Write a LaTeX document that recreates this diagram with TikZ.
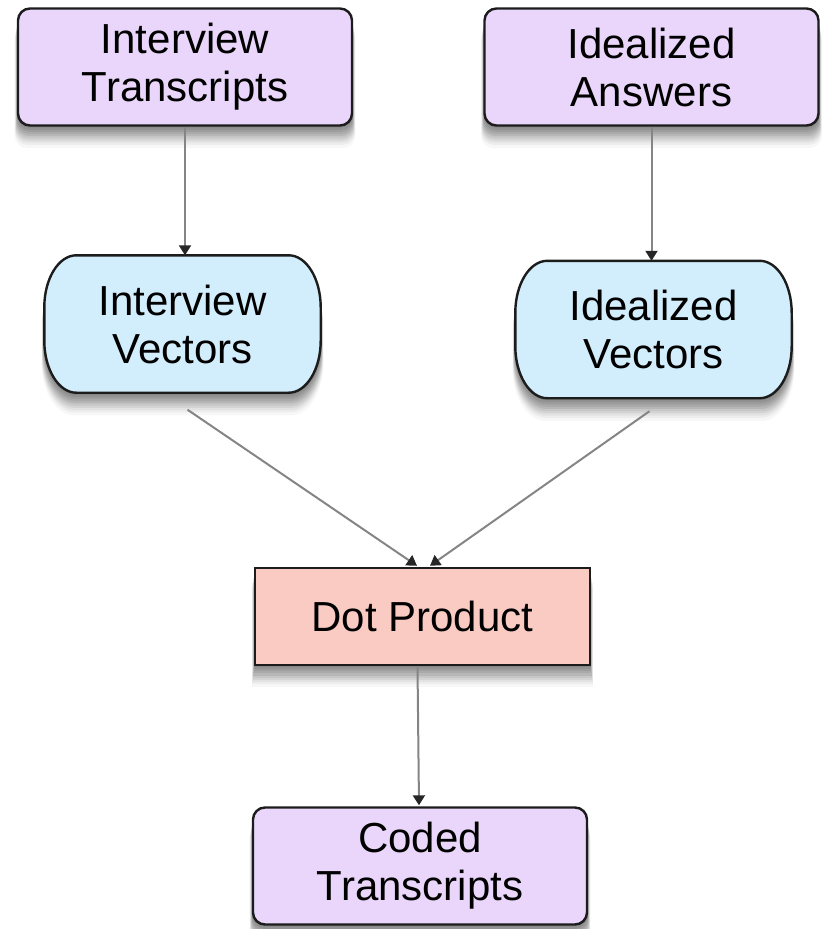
\documentclass[tikz,border=0pt]{standalone}
\usepackage{fontspec}
\setmainfont{Liberation Sans}
\usetikzlibrary{arrows.meta,calc,shadows,backgrounds}

\definecolor{lilac}{HTML}{EAD6FB}
\definecolor{skyfill}{HTML}{D2EEFC}
\definecolor{salmon}{HTML}{FACBC3}
\definecolor{edge}{HTML}{1C1C1C}
\definecolor{wire}{HTML}{858585}

\tikzset{
  % soft drop shadow built from stacked translucent copies
  softshadow/.style={
    general shadow={fill=black, opacity=0.075, shadow yshift=-2pt,  shadow scale=1.002},
    general shadow={fill=black, opacity=0.075, shadow yshift=-4pt,  shadow scale=1.004},
    general shadow={fill=black, opacity=0.075, shadow yshift=-6pt,  shadow scale=1.006},
    general shadow={fill=black, opacity=0.075, shadow yshift=-8pt,  shadow scale=1.008},
    general shadow={fill=black, opacity=0.07, shadow yshift=-10pt, shadow scale=1.010},
    general shadow={fill=black, opacity=0.065, shadow yshift=-12pt, shadow scale=1.012},
    general shadow={fill=black, opacity=0.06, shadow yshift=-14pt, shadow scale=1.014},
    general shadow={fill=black, opacity=0.05, shadow yshift=-16pt, shadow scale=1.016},
    general shadow={fill=black, opacity=0.04, shadow yshift=-18pt, shadow scale=1.018},
    general shadow={fill=black, opacity=0.03, shadow yshift=-21pt, shadow scale=1.020}
  },
  label text/.style={font=\fontsize{42}{48}\selectfont, align=center, text=black},
  frame/.style={draw=edge, line width=2.4pt},
  srcbox/.style={label text, frame, fill=lilac, rounded corners=12pt, softshadow,
    minimum width=334pt, minimum height=117pt, inner sep=0pt},
  prodbox/.style={label text, frame, fill=salmon, softshadow,
    minimum width=335pt, minimum height=97pt, inner sep=0pt},
  vecnode/.style={label text, minimum width=276pt, minimum height=137pt, inner sep=0pt},
  vecshape/.style={frame, fill=skyfill, softshadow},
  link/.style={draw=wire, line width=2pt,
    -{Triangle[width=12pt,length=10pt,color=black!85]}}
}

% rounded outline with elliptical corners around a vector node
\newcommand\vecoutline[1]{%
  \path[vecshape] ($(#1.north west)+(32,0)$) -- ($(#1.north east)+(-32,0)$)
    arc[start angle=90,end angle=0,x radius=32pt,y radius=52pt]
    -- ($(#1.south east)+(0,-52)$)
    arc[start angle=0,end angle=-90,x radius=32pt,y radius=52pt]
    -- ($(#1.south west)+(32,0)$)
    arc[start angle=-90,end angle=-180,x radius=32pt,y radius=52pt]
    -- ($(#1.north west)+(0,52)$)
    arc[start angle=180,end angle=90,x radius=32pt,y radius=52pt] -- cycle;}

\begin{document}
\begin{tikzpicture}[x=1pt,y=-1pt]
  \useasboundingbox (0,0) rectangle (827,929);

  % sources
  \node[srcbox] (it) at (185,67) {Interview\\Transcripts};
  \node[srcbox] (ia) at (651.5,67) {Idealized\\Answers};

  % vectors
  \node[vecnode] (iv) at (182.5,324) {Interview\\Vectors};
  \node[vecnode] (iv2) at (653.5,329.5) {Idealized\\Vectors};
  \begin{scope}[on background layer]
    \vecoutline{iv}
    \vecoutline{iv2}
  \end{scope}

  % combination and result
  \node[prodbox] (dp) at (422.5,616.5) {Dot Product};
  \node[srcbox] (cd) at (420,866) {Coded\\Transcripts};

  % connector end points
  \coordinate (ivfoot) at ($(iv.south)+(5,17)$);
  \coordinate (iv2foot) at ($(iv2.south)+(-4,13)$);
  \coordinate (dpinA) at ($(dp.north)+(-5.5,-1)$);
  \coordinate (dpinB) at ($(dp.north)+(7.5,-1)$);
  \coordinate (dpout) at ($(dp.south)+(-5,0)$);
  \coordinate (cdin) at ($(cd.north)+(-1,-1)$);

  % connectors
  \draw[link] (it.south) -- (it.south |- iv.north);
  \draw[link] (ia.south) -- (ia.south |- iv2.north);
  \draw[link] (ivfoot) -- (dpinA);
  \draw[link] (iv2foot) -- (dpinB);
  \draw[link] (dpout) -- (cdin);
\end{tikzpicture}
\end{document}
